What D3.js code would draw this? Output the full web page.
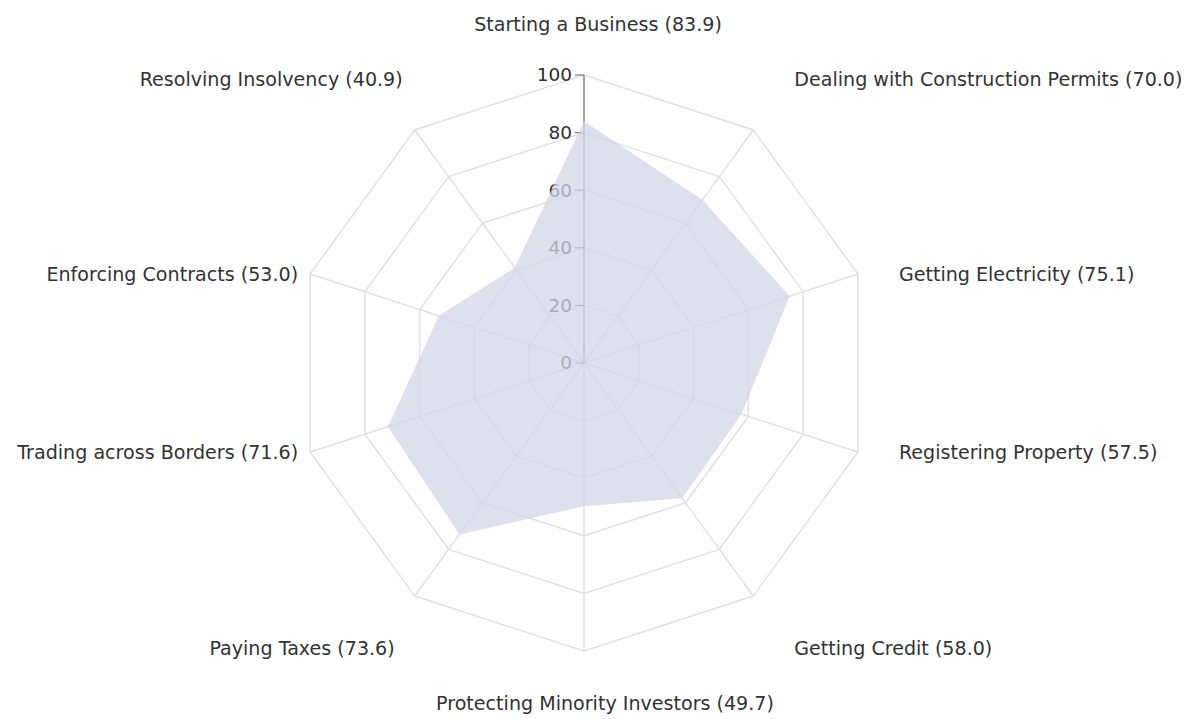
<!DOCTYPE html>
<html>
<head>
<meta charset="utf-8">
<script src="https://cdn.jsdelivr.net/npm/d3@7"></script>
<style>
  body { margin: 0; background: #fff; }
  svg { display: block; font-family: "DejaVu Sans", sans-serif; }
</style>
</head>
<body>
<svg id="chart" width="1191" height="719"></svg>
<script>
var categories = [
  "Starting a Business",
  "Dealing with Construction Permits",
  "Getting Electricity",
  "Registering Property",
  "Getting Credit",
  "Protecting Minority Investors",
  "Paying Taxes",
  "Trading across Borders",
  "Enforcing Contracts",
  "Resolving Insolvency"
];
var scores = [83.9, 70.0, 75.1, 57.5, 58.0, 49.7, 73.6, 71.6, 53.0, 40.9];
var radialTicks = [0, 20, 40, 60, 80, 100];

var svg = d3.select("svg#chart"),
    cx = 584,
    cy = 363,
    radius = 288,
    g = svg.append("g").attr("transform", "translate(" + cx + "," + cy + ")");

var r = d3.scaleLinear().domain([0, 100]).range([0, radius]);

var angle = d3.scaleBand()
    .domain(categories)
    .range([0, 2 * Math.PI]);

function point(cat, v) {
  var a = angle(cat);
  return [r(v) * Math.sin(a), -r(v) * Math.cos(a)];
}

// grid rings
var ring = d3.line().curve(d3.curveLinearClosed);
g.append("g")
  .selectAll("path")
  .data(radialTicks.slice(1))
  .enter().append("path")
    .attr("d", function(t) { return ring(categories.map(function(c) { return point(c, t); })); })
    .attr("fill", "none")
    .attr("stroke", "#e1e1e1")
    .attr("stroke-width", 1.5);

// spokes
g.append("g")
  .selectAll("line")
  .data(categories)
  .enter().append("line")
    .attr("x1", 0).attr("y1", 0)
    .attr("x2", function(c) { return point(c, 100)[0]; })
    .attr("y2", function(c) { return point(c, 100)[1]; })
    .attr("stroke", "#e1e1e1")
    .attr("stroke-width", 1.5);

// radial axis
var axis = g.append("g").attr("class", "axis");
axis.append("line")
    .attr("x1", 0).attr("y1", 0)
    .attr("x2", 0).attr("y2", -r(100))
    .attr("stroke", "#777")
    .attr("stroke-width", 1.2);

var tick = axis.selectAll("g.tick")
  .data(radialTicks)
  .enter().append("g")
    .attr("class", "tick")
    .attr("transform", function(t) { return "translate(0," + (-r(t)) + ")"; });

tick.append("line")
    .attr("x1", -9).attr("x2", 0)
    .attr("stroke", "#777")
    .attr("stroke-width", 1.2);

tick.append("text")
    .attr("x", -12)
    .attr("dy", "0.35em")
    .attr("text-anchor", "end")
    .attr("font-size", 18.5)
    .attr("fill", "#2e2e2e")
    .text(function(t) { return t; });

// data area
g.append("path")
    .datum(categories.map(function(c, i) { return point(c, scores[i]); }))
    .attr("d", ring)
    .attr("fill", "rgb(211,214,232)")
    .attr("fill-opacity", 0.75)
    .attr("stroke", "none");

// category labels
g.append("g")
  .selectAll("text")
  .data(categories)
  .enter().append("text")
    .attr("font-size", 19.1)
    .attr("fill", "#333")
    .attr("dy", "0.35em")
    .attr("text-anchor", function(c) {
      var s = Math.sin(angle(c));
      return s > 0.1 ? "start" : s < -0.1 ? "end" : "middle";
    })
    .attr("x", function(c) {
      var s = Math.sin(angle(c)), k = Math.cos(angle(c)), p = point(c, 100);
      if (s > 0.1) return p[0] + 41;
      if (s < -0.1) return p[0] - (k < -0.5 ? 20 : 12);
      return p[0] + (k > 0 ? 14 : 21);
    })
    .attr("y", function(c) {
      var k = Math.cos(angle(c)), p = point(c, 100);
      return p[1] + (k > 0.5 ? -51 : k < -0.5 ? 52 : 0);
    })
    .text(function(c, i) { return c + " (" + scores[i].toFixed(1) + ")"; });
</script>
</body>
</html>
